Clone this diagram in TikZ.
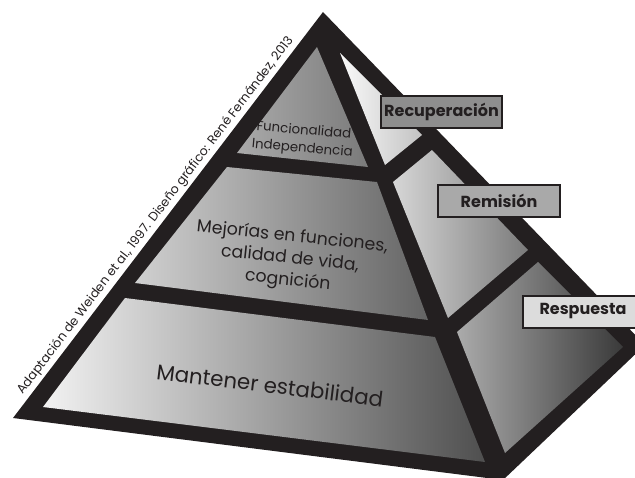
\documentclass[tikz,border=0pt]{standalone}
\usepackage{fontspec}
\setmainfont{Poppins}

\definecolor{ink}{HTML}{231F20}
\definecolor{frontlight}{HTML}{F2F2F2}
\definecolor{frontdark}{HTML}{4F4F4F}
\definecolor{sidelight}{HTML}{FAFAFA}
\definecolor{sidedark}{HTML}{3A3A3A}
\definecolor{tagdark}{HTML}{8E8E8E}
\definecolor{tagmid}{HTML}{A9A9A9}
\definecolor{taglight}{HTML}{DCDCDC}

\tikzset{
  tag/.style={draw=ink, line width=1.5pt, text=ink, inner sep=0pt,
    minimum height=24pt, font=\bfseries\fontsize{12}{14}\selectfont},
  facetext/.style={text=ink, align=center, inner sep=0pt},
}

\begin{document}
\begin{tikzpicture}[x=0.75pt,y=-0.75pt]
    \useasboundingbox (0,0) rectangle (635,478);
    \begin{scope}
    \clip (0,0) rectangle (635,478);
    % black body of the pyramid
    \coordinate (apex) at (323,12);
    \coordinate (left) at (13,418);
    \coordinate (bottom) at (503,480);
    \coordinate (right) at (645,345);
    \fill[ink] (apex) -- (left) -- (bottom) -- (right) -- cycle;
    % front face, one gradient for the three levels
    \begin{scope}
      \clip (317,47) -- (237,153) -- (368,167) -- cycle
            (227,167) -- (377,182) -- (428,320) -- (135,283) -- cycle
            (125,298) -- (435,337) -- (485,462) -- (43,407) -- cycle;
      \shade[left color=frontlight, right color=frontdark] (43,40) rectangle (485,465);
    \end{scope}
    % side face
    \begin{scope}
      \clip (340,53) -- (422,135) -- (385,165) -- cycle
            (393,182) -- (432,150) -- (528,250) -- (448,318) -- cycle
            (457,332) -- (538,262) -- (623,347) -- (505,453) -- cycle;
      \shade[left color=sidelight, right color=sidedark] (340,50) rectangle (623,455);
    \end{scope}
    % labels on the side
    \node[tag, fill=tagdark, minimum width=91pt] (recup) at (441.5,112) {Recuperación};
    \node[tag, fill=tagmid, minimum width=91pt] (remis) at (499,201) {Remisión};
    \node[tag, fill=taglight, minimum width=90pt] (resp) at (583,311.5) {Respuesta};
    \end{scope}
    % levels
    \node[facetext, rotate=-5, font=\fontsize{10}{13.5}\selectfont] (nivelsup) at (303,140) {Funcionalidad\\Independencia};
    \node[facetext, rotate=-6, font=\fontsize{13}{16.5}\selectfont] (nivelmed) at (290,259) {Mejorías en funciones,\\calidad de vida,\\cognición};
    \node[facetext, rotate=-7, font=\fontsize{16}{20}\selectfont] (nivelinf) at (270,385) {Mantener estabilidad};
    % credit along the left edge
    \node[facetext, anchor=south, rotate=52.6, font=\fontsize{9.4}{11}\selectfont] (credito) at (161,220) {Adaptación de Weiden et al., 1997. Diseño gráfico: René Fernández, 2013};
\end{tikzpicture}
\end{document}
